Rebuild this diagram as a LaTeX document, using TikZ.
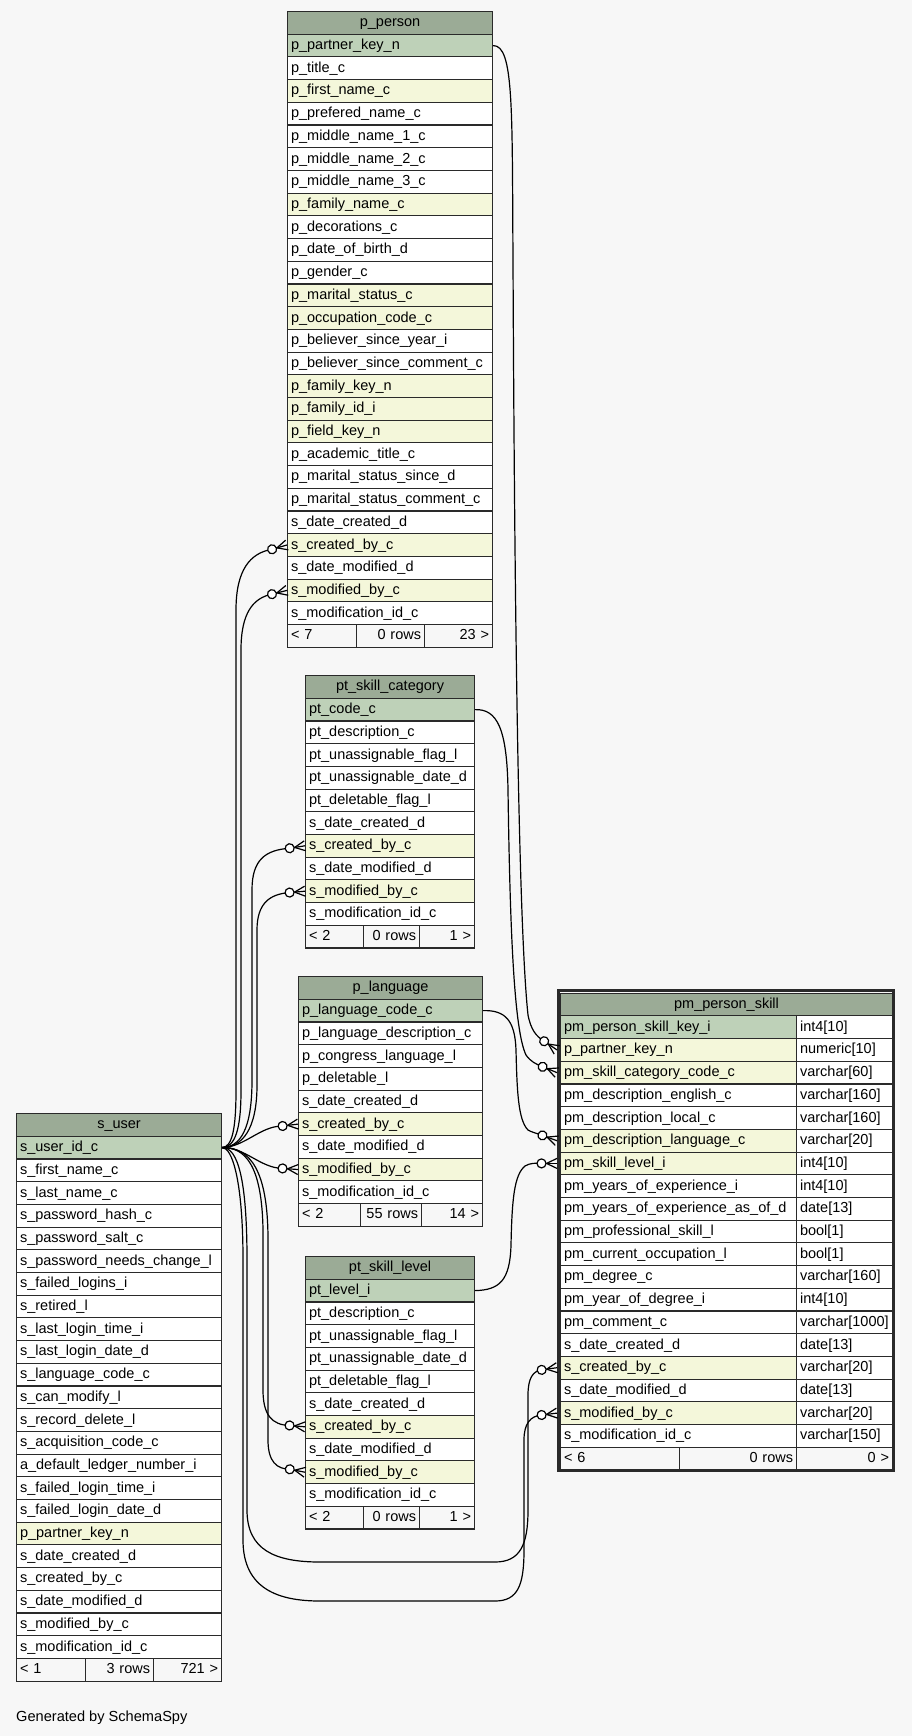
\documentclass[tikz,border=0pt]{standalone}
\usepackage{fontspec}
\setmainfont{Liberation Sans}
\hyphenpenalty=10000
\exhyphenpenalty=10000
\definecolor{bgc}{HTML}{F7F7F7}
\definecolor{hdrc}{HTML}{9BAB96}
\definecolor{keyc}{HTML}{BED1B8}
\definecolor{fkc}{HTML}{F4F7DA}
\definecolor{linec}{HTML}{2A2A2A}
\newcommand{\tabfont}{\fontsize{14.5pt}{17pt}\selectfont}
\newcommand{\crowfoot}[2]{%
  \begin{scope}[shift={(#1)}, rotate=#2]
    \draw[conn] (0pt,5pt) -- (10.5pt,0pt) -- (0pt,-5pt);
    \draw[conn] (0pt,0pt) -- (10.5pt,0pt);
    \draw[conn, fill=white] (15.5pt,0pt) circle (4.5pt);
  \end{scope}}
\tikzset{
  cell/.style={draw=linec, line width=1.1pt, inner xsep=3.5pt, inner ysep=0pt,
    minimum height=22.7pt, text height=11.5pt, text depth=3.5pt,
    anchor=north west, font=\tabfont, align=left},
  hdr/.style={cell, fill=hdrc, align=center},
  ftl/.style={cell, fill=bgc, align=left},
  ftr/.style={cell, fill=bgc, align=right},
  conn/.style={draw=black, line width=1.2pt},
}
\begin{document}
\begin{tikzpicture}[x=1pt, y=-1pt]
\fill[bgc] (0,0) rectangle (912,1736);
\useasboundingbox (0,0) rectangle (912,1736);

% ---------- p_person ----------
\node[hdr, text width=198pt] (pp-h) at (287,11) {p\_person};
\foreach \nm/\st [count=\i] in {
  p\_partner\_key\_n/keyc, p\_title\_c/white, p\_first\_name\_c/fkc,
  p\_prefered\_name\_c/white, p\_middle\_name\_1\_c/white, p\_middle\_name\_2\_c/white,
  p\_middle\_name\_3\_c/white, p\_family\_name\_c/fkc, p\_decorations\_c/white,
  p\_date\_of\_birth\_d/white, p\_gender\_c/white, p\_marital\_status\_c/fkc,
  p\_occupation\_code\_c/fkc, p\_believer\_since\_year\_i/white,
  p\_believer\_since\_comment\_c/white, p\_family\_key\_n/fkc, p\_family\_id\_i/fkc,
  p\_field\_key\_n/fkc, p\_academic\_title\_c/white, p\_marital\_status\_since\_d/white,
  p\_marital\_status\_comment\_c/white, s\_date\_created\_d/white, s\_created\_by\_c/fkc,
  s\_date\_modified\_d/white, s\_modified\_by\_c/fkc, s\_modification\_id\_c/white}
  \node[cell, fill=\st, text width=198pt] (pp-\i) at (287,{11+\i*22.7}) {\nm};
\node[ftl, text width=62pt] (pp-f1) at (287,623.9) {< 7};
\node[ftr, text width=61pt] (pp-f2) at (356,623.9) {0 rows};
\node[ftr, text width=61pt] (pp-f3) at (424,623.9) {23 >};

% ---------- pt_skill_category ----------
\node[hdr, text width=162pt] (sc-h) at (305,675) {pt\_skill\_category};
\foreach \nm/\st [count=\i] in {
  pt\_code\_c/keyc, pt\_description\_c/white, pt\_unassignable\_flag\_l/white,
  pt\_unassignable\_date\_d/white, pt\_deletable\_flag\_l/white, s\_date\_created\_d/white,
  s\_created\_by\_c/fkc, s\_date\_modified\_d/white, s\_modified\_by\_c/fkc,
  s\_modification\_id\_c/white}
  \node[cell, fill=\st, text width=162pt] (sc-\i) at (305,{675+\i*22.7}) {\nm};
\node[ftl, text width=51pt] (sc-f1) at (305,924.7) {< 2};
\node[ftr, text width=49pt] (sc-f2) at (363,924.7) {0 rows};
\node[ftr, text width=48pt] (sc-f3) at (419,924.7) {1 >};

% ---------- p_language ----------
\node[hdr, text width=177pt] (pl-h) at (298,976) {p\_language};
\foreach \nm/\st [count=\i] in {
  p\_language\_code\_c/keyc, p\_language\_description\_c/white,
  p\_congress\_language\_l/white, p\_deletable\_l/white, s\_date\_created\_d/white,
  s\_created\_by\_c/fkc, s\_date\_modified\_d/white, s\_modified\_by\_c/fkc,
  s\_modification\_id\_c/white}
  \node[cell, fill=\st, text width=177pt] (pl-\i) at (298,{976+\i*22.7}) {\nm};
\node[ftl, text width=55pt] (pl-f1) at (298,1203) {< 2};
\node[ftr, text width=54pt] (pl-f2) at (360,1203) {55 rows};
\node[ftr, text width=54pt] (pl-f3) at (421,1203) {14 >};

% ---------- pt_skill_level ----------
\node[hdr, text width=162pt] (sl-h) at (305,1256) {pt\_skill\_level};
\foreach \nm/\st [count=\i] in {
  pt\_level\_i/keyc, pt\_description\_c/white, pt\_unassignable\_flag\_l/white,
  pt\_unassignable\_date\_d/white, pt\_deletable\_flag\_l/white, s\_date\_created\_d/white,
  s\_created\_by\_c/fkc, s\_date\_modified\_d/white, s\_modified\_by\_c/fkc,
  s\_modification\_id\_c/white}
  \node[cell, fill=\st, text width=162pt] (sl-\i) at (305,{1256+\i*22.7}) {\nm};
\node[ftl, text width=51pt] (sl-f1) at (305,1505.7) {< 2};
\node[ftr, text width=49pt] (sl-f2) at (363,1505.7) {0 rows};
\node[ftr, text width=48pt] (sl-f3) at (419,1505.7) {1 >};

% ---------- s_user ----------
\node[hdr, text width=198pt] (su-h) at (16,1113) {s\_user};
\foreach \nm/\st [count=\i] in {
  s\_user\_id\_c/keyc, s\_first\_name\_c/white, s\_last\_name\_c/white,
  s\_password\_hash\_c/white, s\_password\_salt\_c/white, s\_password\_needs\_change\_l/white,
  s\_failed\_logins\_i/white, s\_retired\_l/white, s\_last\_login\_time\_i/white,
  s\_last\_login\_date\_d/white, s\_language\_code\_c/white, s\_can\_modify\_l/white,
  s\_record\_delete\_l/white, s\_acquisition\_code\_c/white, a\_default\_ledger\_number\_i/white,
  s\_failed\_login\_time\_i/white, s\_failed\_login\_date\_d/white, p\_partner\_key\_n/fkc,
  s\_date\_created\_d/white, s\_created\_by\_c/white, s\_date\_modified\_d/white,
  s\_modified\_by\_c/white, s\_modification\_id\_c/white}
  \node[cell, fill=\st, text width=198pt] (su-\i) at (16,{1113+\i*22.7}) {\nm};
\node[ftl, text width=62pt] (su-f1) at (16,1657.8) {< 1};
\node[ftr, text width=61pt] (su-f2) at (85,1657.8) {3 rows};
\node[ftr, text width=61pt] (su-f3) at (153,1657.8) {721 >};

% ---------- pm_person_skill ----------
\node[hdr, text width=325pt] (pm-h) at (560,992.6) {pm\_person\_skill};
\foreach \nm/\ty/\st [count=\i] in {
  pm\_person\_skill\_key\_i/int4[10]/keyc, p\_partner\_key\_n/numeric[10]/fkc,
  pm\_skill\_category\_code\_c/varchar[60]/fkc, pm\_description\_english\_c/varchar[160]/white,
  pm\_description\_local\_c/varchar[160]/white, pm\_description\_language\_c/varchar[20]/fkc,
  pm\_skill\_level\_i/int4[10]/fkc, pm\_years\_of\_experience\_i/int4[10]/white,
  pm\_years\_of\_experience\_as\_of\_d/date[13]/white, pm\_professional\_skill\_l/bool[1]/white,
  pm\_current\_occupation\_l/bool[1]/white, pm\_degree\_c/varchar[160]/white,
  pm\_year\_of\_degree\_i/int4[10]/white, pm\_comment\_c/varchar[1000]/white,
  s\_date\_created\_d/date[13]/white, s\_created\_by\_c/varchar[20]/fkc,
  s\_date\_modified\_d/date[13]/white, s\_modified\_by\_c/varchar[20]/fkc,
  s\_modification\_id\_c/varchar[150]/white}
  {\node[cell, fill=\st, text width=229pt] (pm-\i) at (560,{992.6+\i*22.7}) {\nm};
   \node[cell, fill=white, text width=89pt] (pmt-\i) at (796,{992.6+\i*22.7}) {\ty};}
\node[ftl, text width=112pt] (pm-f1) at (560,1446.6) {< 6};
\node[ftr, text width=110pt] (pm-f2) at (679,1446.6) {0 rows};
\node[ftr, text width=89pt] (pm-f3) at (796,1446.6) {0 >};
\draw[linec, line width=3pt] (558.5,990.5) rectangle (893.5,1470.5);

% ---------- connector end points ----------
\coordinate (pmE2) at ([xshift=-3pt]pm-2.west);
\coordinate (pmE3) at ([xshift=-3pt]pm-3.west);
\coordinate (pmE6) at ([xshift=-3pt]pm-6.west);
\coordinate (pmE7) at ([xshift=-3pt]pm-7.west);
\coordinate (pmE16) at ([xshift=-3pt]pm-16.west);
\coordinate (pmE18) at ([xshift=-3pt]pm-18.west);
\path (pmE2) ++(146:15.5pt) coordinate (cA);
\path (pmE3) ++(158:15.5pt) coordinate (cB);
\path (pmE6) ++(160:15.5pt) coordinate (cC);
\path (pmE7) ++(180:15.5pt) coordinate (cD);
\path (pmE16) ++(188:15.5pt) coordinate (cE9);
\path (pmE18) ++(187:15.5pt) coordinate (cE10);
\path (pp-23.west) ++(196:15.5pt) coordinate (cE1);
\path (pp-25.west) ++(194:15.5pt) coordinate (cE2);
\path (sc-7.west) ++(189:15.5pt) coordinate (cE3);
\path (sc-9.west) ++(185:15.5pt) coordinate (cE4);
\path (pl-6.west) ++(187:15.5pt) coordinate (cE5);
\path (pl-8.west) ++(176:15.5pt) coordinate (cE6);
\path (sl-7.west) ++(175:15.5pt) coordinate (cE7);
\path (sl-9.west) ++(169:15.5pt) coordinate (cE8);

% ---------- connectors ----------
\draw[conn] (pp-1.east) .. controls (514,45) and (512,110) .. (513,260)
  .. controls (515,700) and (520,940) .. (528,1015)
  .. controls (531,1030) and (536,1036) .. (cA);
\draw[conn] (sc-1.east) .. controls (497,709) and (507,728) .. (508,790)
  .. controls (510,930) and (514,1030) .. (526,1055)
  .. controls (531,1062) and (536,1064) .. (cB);
\draw[conn] (pl-1.east) .. controls (505,1010) and (515,1020) .. (516,1050)
  .. controls (517,1090) and (518,1120) .. (528,1130)
  .. controls (531,1132) and (536,1133) .. (cC);
\draw[conn] (sl-1.east) .. controls (500,1290) and (510,1280) .. (511,1245)
  .. controls (512,1200) and (514,1175) .. (525,1166)
  .. controls (530,1163) and (535,1163) .. (cD);

\draw[conn] (su-1.east) .. controls (232,1147) and (236,1130) .. (236,1090)
  -- (236,610) .. controls (236,570) and (250,553) .. (cE1);
\draw[conn] (su-1.east) .. controls (235,1147) and (241,1130) .. (241,1090)
  -- (241,650) .. controls (241,613) and (253,598) .. (cE2);
\draw[conn] (su-1.east) .. controls (240,1147) and (252,1130) .. (252,1080)
  -- (252,890) .. controls (252,860) and (265,850) .. (cE3);
\draw[conn] (su-1.east) .. controls (242,1147) and (257,1130) .. (257,1085)
  -- (257,930) .. controls (257,903) and (270,894) .. (cE4);
\draw[conn] (su-1.east) .. controls (245,1147) and (260,1126) .. (cE5);
\draw[conn] (su-1.east) .. controls (245,1147) and (260,1168) .. (cE6);
\draw[conn] (su-1.east) .. controls (245,1147) and (262,1165) .. (263,1230)
  -- (263,1390) .. controls (263,1415) and (272,1425) .. (cE7);
\draw[conn] (su-1.east) .. controls (250,1147) and (268,1170) .. (268,1240)
  -- (268,1440) .. controls (268,1462) and (277,1469) .. (cE8);
\draw[conn] (su-1.east) .. controls (238,1147) and (247,1180) .. (247,1260)
  -- (247,1510) .. controls (247,1550) and (275,1562) .. (320,1562)
  -- (495,1562) .. controls (520,1562) and (528,1545) .. (528,1510)
  -- (528,1395) .. controls (528,1378) and (533,1371) .. (cE9);
\draw[conn] (su-1.east) .. controls (232,1147) and (243,1180) .. (243,1260)
  -- (243,1540) .. controls (243,1590) and (280,1601) .. (320,1601)
  -- (495,1601) .. controls (518,1601) and (524,1585) .. (524,1550)
  -- (524,1440) .. controls (524,1424) and (530,1416) .. (cE10);

% ---------- crow's foot + optional markers ----------
\crowfoot{pmE2}{146}
\crowfoot{pmE3}{158}
\crowfoot{pmE6}{160}
\crowfoot{pmE7}{180}
\crowfoot{pmE16}{188}
\crowfoot{pmE18}{187}
\crowfoot{pp-23.west}{196}
\crowfoot{pp-25.west}{194}
\crowfoot{sc-7.west}{189}
\crowfoot{sc-9.west}{185}
\crowfoot{pl-6.west}{187}
\crowfoot{pl-8.west}{176}
\crowfoot{sl-7.west}{175}
\crowfoot{sl-9.west}{169}

\node[anchor=base west, inner sep=0pt, font=\fontsize{14.6pt}{17pt}\selectfont] (gen) at (16,1721) {Generated by SchemaSpy};
\end{tikzpicture}
\end{document}
